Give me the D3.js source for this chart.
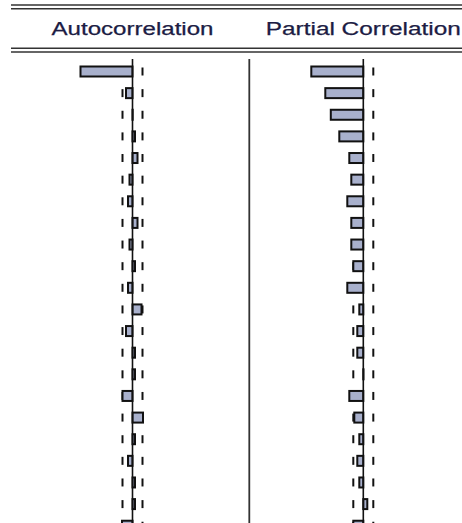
<!DOCTYPE html>
<html>
<head>
<meta charset="utf-8">
<script src="https://cdn.jsdelivr.net/npm/d3@7"></script>
<style>
  html, body { margin: 0; padding: 0; background: #fff; }
  svg { display: block; }
</style>
</head>
<body>
<svg id="chart" width="462" height="523"></svg>
<script>
// ---- data ----
const lags = d3.range(1, 23);
const acf = [-0.52, -0.065, 0.002, 0.025, 0.05, -0.03, -0.045, 0.05, -0.03, 0.025, -0.045,
             0.09, -0.065, 0.025, 0.025, -0.10, 0.105, 0.025, -0.045, 0.025, 0.025, -0.105];
const pacf = [-0.52, -0.38, -0.325, -0.24, -0.14, -0.12, -0.16, -0.12, -0.12, -0.10, -0.16,
              -0.04, -0.06, -0.06, 0.002, -0.14, -0.09, -0.04, -0.06, -0.04, 0.04, -0.10];
const bound = 0.1;
const headers = ["Autocorrelation", "Partial Correlation"];

// ---- layout ----
const svg = d3.select("#chart");
const W = 462, H = 523;
const panels = [
  { title: headers[0], values: acf, zero: 132.5, textLen: 162 },
  { title: headers[1], values: pacf, zero: 363.3, textLen: 195 }
];

const y = d3.scalePoint().domain(lags).range([71.5, 71.5 + 21 * 21.63]);
const barH = 10;

// header double lines
const lineYs = [5, 8.7, 48.3, 52];
svg.selectAll("line.hdr").data(lineYs).join("line")
  .attr("class", "hdr")
  .attr("x1", 11).attr("x2", W)
  .attr("y1", d => d).attr("y2", d => d)
  .attr("stroke", "#333").attr("stroke-width", 1.6);

// separator
svg.append("line")
  .attr("x1", 249.3).attr("x2", 249.3)
  .attr("y1", 59).attr("y2", H)
  .attr("stroke", "#333").attr("stroke-width", 1.8);

panels.forEach(p => {
  const x = d3.scaleLinear().domain([-1, 1]).range([p.zero - 100, p.zero + 100]);
  const g = svg.append("g");

  // header
  g.append("text")
    .attr("x", x(0)).attr("y", 35)
    .attr("text-anchor", "middle")
    .attr("font-family", "'Liberation Sans', Arial, sans-serif")
    .attr("font-size", 17.5)
    .attr("fill", "#1c1c44")
    .attr("stroke", "#1c1c44").attr("stroke-width", 0.25)
    .attr("textLength", p.textLen)
    .attr("lengthAdjust", "spacingAndGlyphs")
    .text(p.title);

  // confidence dashes (behind bars)
  [-bound, bound].forEach(b => {
    g.selectAll(null).data(lags).join("line")
      .attr("x1", x(b)).attr("x2", x(b))
      .attr("y1", d => y(d) - 4).attr("y2", d => y(d) + 4)
      .attr("stroke", "#111").attr("stroke-width", 2);
  });

  // bars
  g.selectAll("rect").data(p.values).join("rect")
    .attr("x", d => Math.min(x(0), x(d)))
    .attr("width", d => Math.abs(x(d) - x(0)))
    .attr("y", (d, i) => y(lags[i]) - barH / 2)
    .attr("height", barH)
    .attr("fill", "#a8b0cc")
    .attr("stroke", "#111")
    .attr("stroke-width", 2);

  // zero line
  g.append("line")
    .attr("x1", x(0)).attr("x2", x(0))
    .attr("y1", 59).attr("y2", H)
    .attr("stroke", "#111").attr("stroke-width", 1.6);
});
</script>
</body>
</html>
